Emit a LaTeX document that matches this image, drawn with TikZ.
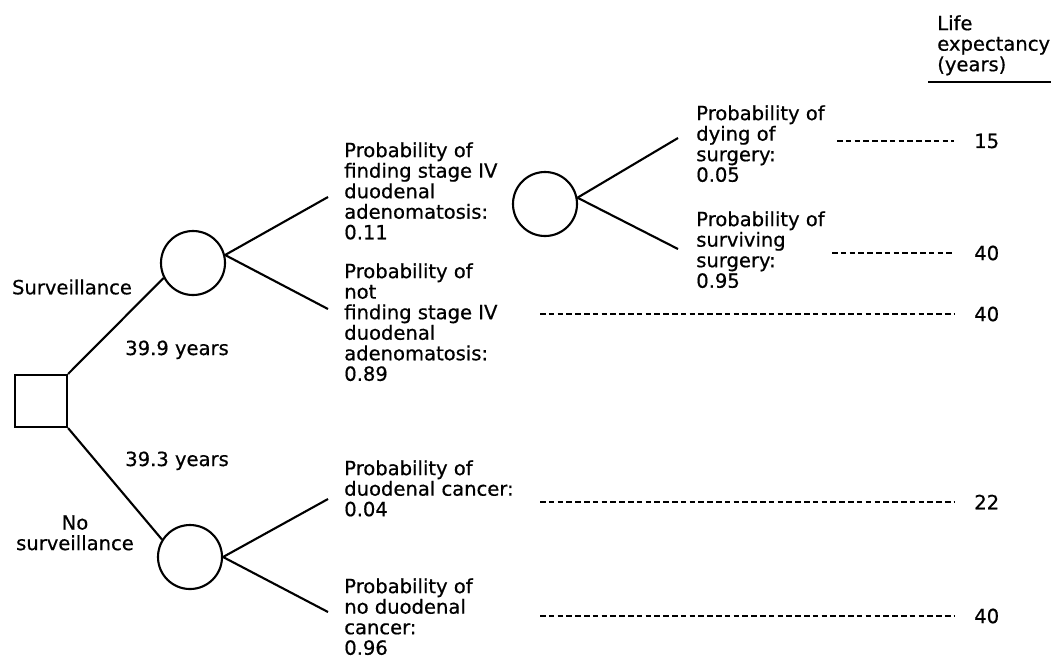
\documentclass[tikz,border=0pt]{standalone}
\usepackage{fontspec}
\setmainfont[FakeBold=0.6]{DejaVu Sans}

\begin{document}
\begin{tikzpicture}[
  x=0.025cm, y=-0.025cm,
  font=\fontsize{13.9}{14.6}\selectfont,
  dec/.style={draw, line width=1.5pt, minimum size=1.3cm, inner sep=0},
  chance/.style={draw, circle, line width=1.5pt, minimum size=1.6cm, inner sep=0},
  lbl/.style={align=left, anchor=north west, inner sep=0},
  num/.style={anchor=west, inner sep=0},
  br/.style={line width=1.5pt},
  dl/.style={line width=0.8pt, dash pattern=on 0.14cm off 0.08cm, shorten >=0.5cm}
]
\useasboundingbox (0,0) rectangle (1051,660);

% decision and chance nodes
\node[dec] (sq) at (41,401) {};
\node[chance] (c1) at (193,263) {};
\node[chance] (c2) at (190,557) {};
\node[chance] (c3) at (545,204) {};

% free ends of the branches
\coordinate (e1) at (328,197);
\coordinate (e2) at (328,309);
\coordinate (e3) at (328,499);
\coordinate (e4) at (328,612);
\coordinate (e5) at (678,138);
\coordinate (e6) at (678,249);

\draw[br] (sq.north east) -- (c1.207);
\draw[br] (sq.south east) -- (c2.148);
\draw[br] (c1.14) -- (e1);
\draw[br] (c1.14) -- (e2);
\draw[br] (c2.east) -- (e3);
\draw[br] (c2.east) -- (e4);
\draw[br] (c3.11) -- (e5);
\draw[br] (c3.11) -- (e6);

% branch labels
\node (surv) at (72,287) {Surveillance};
\node[align=center, anchor=north, inner sep=0] (nosurv) at (75,515) {No\\surveillance};
\node[anchor=base west, inner sep=0] (ys) at (125,355) {39.9 years};
\node[anchor=base west, inner sep=0] (yn) at (125,466) {39.3 years};

\node[lbl] (pa) at (344,142) {Probability of\\finding stage IV\\duodenal\\adenomatosis:\\0.11};
\node[lbl] (pb) at (344,263) {Probability of\\not\\finding stage IV\\duodenal\\adenomatosis:\\0.89};
\node[lbl] (pc) at (344,460) {Probability of\\duodenal cancer:\\0.04};
\node[lbl] (pd) at (344,578) {Probability of\\no duodenal\\cancer:\\0.96};
\node[lbl] (pe) at (696,105) {Probability of\\dying of\\surgery:\\0.05};
\node[lbl] (pf) at (696,211) {Probability of\\surviving\\surgery:\\0.95};

% outcomes
\node[lbl] (hdr) at (937,15) {Life\\expectancy\\(years)};
\draw[line width=1.5pt] (928,82) -- (1051,82);

\node[num] (n1) at (974,141) {15};
\node[num] (n2) at (974,253) {40};
\node[num] (n3) at (974,314) {40};
\node[num] (n4) at (974,502) {22};
\node[num] (n5) at (974,616) {40};

\coordinate (d1) at (837,141);
\coordinate (d2) at (832,253);
\coordinate (d3) at (540,314);
\coordinate (d4) at (540,502);
\coordinate (d5) at (540,616);

\draw[dl] (d1) -- (n1);
\draw[dl] (d2) -- (n2);
\draw[dl] (d3) -- (n3);
\draw[dl] (d4) -- (n4);
\draw[dl] (d5) -- (n5);
\end{tikzpicture}
\end{document}
